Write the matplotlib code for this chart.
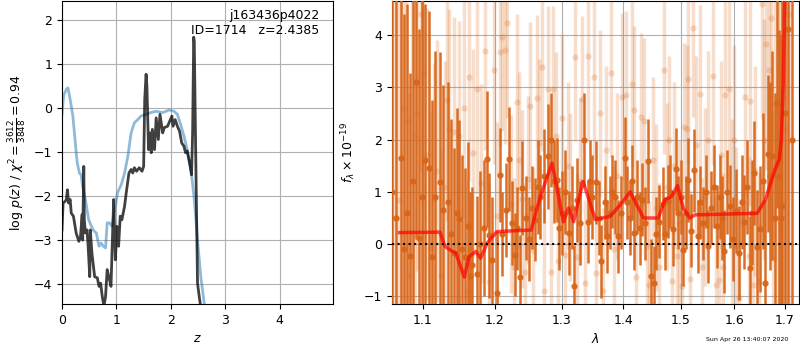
import matplotlib
matplotlib.use("Agg")
import matplotlib.pyplot as plt
from matplotlib.ticker import NullLocator

plt.rcParams["font.size"] = 9

# p(z) panel
z_prior = [0.0, 0.03, 0.08, 0.11, 0.15, 0.2, 0.25, 0.28, 0.32, 0.35, 0.38, 0.43, 0.49,
           0.57, 0.63, 0.68, 0.72, 0.76, 0.80, 0.83, 0.87, 0.92, 0.98, 1.02, 1.09, 1.15,
           1.21, 1.27, 1.33, 1.39, 1.45, 1.54, 1.63, 1.73, 1.85, 1.97, 2.06, 2.12, 2.18,
           2.24, 2.30, 2.37, 2.43, 2.49, 2.55, 2.63]
logp_prior = [-0.15, 0.27, 0.42, 0.45, 0.19, -0.19, -0.87, -1.25, -1.48, -1.52, -1.78,
              -2.08, -2.54, -2.77, -2.84, -3.14, -3.07, -3.14, -3.18, -2.61, -2.61, -2.69,
              -2.23, -1.93, -1.74, -1.48, -1.10, -0.57, -0.34, -0.27, -0.19, -0.15, -0.11,
              -0.08, -0.11, -0.05, -0.08, -0.15, -0.38, -0.64, -0.95, -1.40, -2.08, -2.99,
              -3.83, -4.6]

z_fit = [0.0, 0.02, 0.06, 0.08, 0.10, 0.12, 0.15, 0.17, 0.21, 0.26, 0.31, 0.34, 0.37,
         0.38, 0.40, 0.41, 0.43, 0.46, 0.48, 0.51, 0.52, 0.55, 0.60, 0.65, 0.68, 0.71,
         0.74, 0.77, 0.80, 0.83, 0.86, 0.90, 0.93, 0.95, 0.98, 1.01, 1.04, 1.07, 1.10,
         1.15, 1.18, 1.23, 1.27, 1.30, 1.33, 1.37, 1.42, 1.47, 1.50, 1.52, 1.545, 1.56,
         1.59, 1.62, 1.64, 1.66, 1.70, 1.73, 1.77, 1.80, 1.85, 1.88, 1.94, 1.98, 2.02,
         2.04, 2.08, 2.12, 2.16, 2.20, 2.24, 2.27, 2.30, 2.35, 2.38, 2.40, 2.42, 2.43,
         2.46, 2.49, 2.53, 2.56]
logp_fit = [-2.77, -2.16, -2.12, -2.08, -1.86, -2.16, -2.08, -2.39, -2.46, -2.84, -3.03,
            -2.92, -2.42, -3.0, -1.33, -2.54, -2.84, -2.77, -3.14, -3.83, -2.77, -3.30,
            -3.83, -3.86, -4.05, -3.98, -4.28, -4.5, -4.28, -3.67, -3.83, -4.05, -2.84,
            -2.08, -3.45, -2.69, -3.14, -2.46, -2.54, -2.23, -1.93, -1.48, -1.40, -1.48,
            -1.36, -1.44, -1.36, -1.44, -1.33, 0.19, 0.76, 0.49, -0.95, -0.57, -1.02,
            -0.49, -0.95, -0.23, -0.72, -0.15, -0.57, -0.45, -0.42, -0.30, -0.19, -0.42,
            -0.27, -0.42, -0.53, -0.80, -0.87, -1.02, -0.98, -1.29, -1.52, -0.57, 1.6,
            1.5, -1.33, -3.98, -4.36, -4.6]

# spectrum panel, main grism
lam_a = [1.061, 1.066, 1.072, 1.076, 1.080, 1.083, 1.087, 1.091, 1.096, 1.099, 1.103,
         1.108, 1.112, 1.117, 1.123, 1.128, 1.134, 1.138, 1.142, 1.146, 1.150, 1.153,
         1.157, 1.162, 1.165, 1.168, 1.174, 1.178, 1.184, 1.189, 1.191, 1.196, 1.203,
         1.207, 1.211, 1.216, 1.220, 1.225, 1.229, 1.233, 1.237, 1.240, 1.245, 1.250,
         1.255, 1.2595, 1.264, 1.2675, 1.2735, 1.279, 1.284, 1.288, 1.293, 1.296, 1.300,
         1.305, 1.3125, 1.316, 1.319, 1.3245, 1.330, 1.336, 1.342, 1.345, 1.349, 1.355,
         1.360, 1.364, 1.369, 1.373, 1.378, 1.382, 1.386, 1.391, 1.396, 1.403, 1.407,
         1.411, 1.415, 1.419, 1.424, 1.428, 1.432, 1.437, 1.442, 1.448, 1.4525, 1.457,
         1.461, 1.468, 1.472, 1.477, 1.481, 1.486, 1.491, 1.496, 1.500, 1.505, 1.509,
         1.513, 1.519, 1.525, 1.5315, 1.536, 1.541, 1.546, 1.551, 1.556, 1.562, 1.567,
         1.572, 1.576, 1.581, 1.586, 1.592, 1.597, 1.603, 1.6095, 1.614, 1.618, 1.624,
         1.630, 1.634, 1.638, 1.645, 1.651, 1.656, 1.661, 1.667, 1.671, 1.675, 1.680,
         1.685, 1.688, 1.692, 1.695, 1.700, 1.706, 1.714]
flux_a = [1.0, 0.5, 1.65, -0.10, 0.6, -0.22, 1.2, 3.10, 0.12, 0.9, 1.60, 1.46, -0.25,
          0.9, 1.18, 0.65, 0.80, 0.2, -0.16, 0.6, 0.48, -0.1, -0.24, 0.35, -0.6, -0.40,
          -0.57, 0.0, 0.30, 1.62, 0.17, -0.3, -0.94, 1.33, 0.2, 0.66, 1.63, 0.4, -0.2,
          0.3, -0.63, 1.07, 0.5, 0.1, 0.7, 0.47, 1.1, 0.90, 1.30, 1.68, 2.0, 1.2, 1.23,
          0.3, 0.60, 1.0, 0.21, 0.7, -0.81, 0.85, 0.4, 1.99, 0.43, 1.2, 0.90, 1.18, 0.5,
          -0.33, 0.8, 0.15, 0.6, 1.0, 0.90, 0.15, 0.6, 1.64, 0.8, 0.5, 1.20, 0.21, 0.9,
          0.3, 0.85, 0.4, 1.59, -0.61, -0.74, 0.2, 0.43, 0.77, 0.2, 0.82, 1.0, 0.29, 1.43,
          0.6, 0.9, -0.11, 0.6, 1.23, 0.26, 1.41, 0.15, 0.8, 0.4, 1.0, -0.04, 0.7, 1.1,
          0.34, 0.9, 0.5, -0.14, 1.0, 0.72, 0.10, 0.63, -0.17, 0.8, 0.43, 1.1, -0.46, 0.6,
          1.36, -0.06, 0.29, 1.2, -0.75, 1.73, 1.3, 1.69, 0.5, 2.70, 1.29, 0.5, 0.72, 2.5,
          4.12, 2.0]
err_a = [6.0, 6.0, 5.0, 4.5, 4.0, 3.5, 4.0, 3.0, 4.0, 4.0, 3.0, 3.0, 3.0, 2.8, 2.5, 2.4,
         2.3, 2.2, 2.0, 2.0, 1.9, 1.8, 1.7, 1.6, 1.6, 1.5, 1.5, 1.4, 1.3, 1.3, 1.2, 1.2,
         1.2, 0.9, 0.8, 0.9, 1.0, 0.8, 0.8, 0.8, 0.8, 0.9, 0.8, 0.8, 0.8, 0.8, 0.9, 0.8,
         0.9, 1.0, 0.9, 0.8, 0.8, 0.8, 0.8, 0.8, 0.8, 0.8, 0.8, 0.8, 0.8, 0.9, 0.8, 0.8,
         0.8, 0.8, 0.7, 0.7, 0.7, 0.7, 0.7, 0.7, 0.7, 0.7, 0.7, 0.8, 0.7, 0.7, 0.7, 0.7,
         0.7, 0.7, 0.7, 0.7, 0.8, 0.7, 0.7, 0.7, 0.7, 0.7, 0.7, 0.7, 0.7, 0.7, 0.8, 0.7,
         0.7, 0.7, 0.7, 0.8, 0.7, 0.8, 0.7, 0.7, 0.7, 0.7, 0.7, 0.7, 0.8, 0.8, 0.8, 0.8,
         0.8, 0.8, 0.8, 0.8, 0.8, 0.9, 0.9, 0.9, 0.9, 1.0, 1.0, 1.0, 1.1, 1.2, 1.3, 1.6,
         1.5, 1.8, 2.0, 2.4, 2.0, 2.8, 3.5, 4.0, 5.0, 6.0, 8.0]

# second spectrum (faint)
lam_b = [1.064, 1.070, 1.074, 1.078, 1.082, 1.086, 1.090, 1.093, 1.098, 1.101, 1.106,
         1.110, 1.115, 1.120, 1.125, 1.130, 1.133, 1.135, 1.142, 1.149, 1.156, 1.160,
         1.163, 1.169, 1.175, 1.180, 1.186, 1.192, 1.198, 1.203, 1.207, 1.211, 1.214,
         1.218, 1.223, 1.228, 1.233, 1.235, 1.240, 1.244, 1.248, 1.252, 1.256, 1.262,
         1.266, 1.270, 1.273, 1.279, 1.283, 1.287, 1.291, 1.295, 1.301, 1.306, 1.310,
         1.314, 1.321, 1.325, 1.330, 1.333, 1.338, 1.3426, 1.3517, 1.355, 1.361, 1.366,
         1.371, 1.3795, 1.384, 1.389, 1.3975, 1.405, 1.4145, 1.418, 1.422, 1.4297, 1.435,
         1.440, 1.445, 1.451, 1.456, 1.462, 1.4705, 1.475, 1.480, 1.484, 1.489, 1.494,
         1.498, 1.503, 1.507, 1.511, 1.5127, 1.517, 1.522, 1.528, 1.535, 1.540, 1.545,
         1.550, 1.5598, 1.565, 1.570, 1.575, 1.579, 1.583, 1.5905, 1.595, 1.600, 1.604,
         1.609, 1.6215, 1.628, 1.630, 1.636, 1.641, 1.649, 1.6545, 1.658, 1.663, 1.668,
         1.673, 1.677, 1.681, 1.686, 1.690, 1.697, 1.703, 1.709]
flux_b = [0.5, 0.85, 2.58, 2.36, -0.6, 1.2, 2.06, 2.48, 4.4, 3.28, 1.71, -0.08, 0.87,
          1.4, -0.6, 1.1, 2.75, 2.2, 2.14, 2.06, 2.6, -0.9, 3.2, 1.74, 2.96, 1.16, 3.7,
          -0.72, 3.34, 0.54, 3.68, 3.96, 3.71, 4.22, 0.77, -0.44, 2.71, 1.6, 0.86, -0.54,
          1.24, 2.65, -0.12, 2.79, 1.94, 3.38, -0.9, 2.96, -0.54, 2.96, 2.07, -0.33, 2.42,
          -0.2, 1.5, 0.9, 3.57, -0.24, 1.2, 2.77, -0.75, 3.59, 3.2, -0.55, 2.5, -0.9, 1.8,
          3.27, -0.1, 1.3, 2.82, 2.86, 3.07, 2.57, -0.62, 2.44, 2.35, -0.04, -0.78, 1.6,
          0.7, -0.43, 3.33, 1.1, 2.0, -0.7, 1.5, -0.23, 0.4, -0.81, 2.25, 2.2, 3.15, -0.67,
          4.14, 1.9, 2.88, -0.43, 0.9, 2.0, 3.22, -0.78, -0.69, 1.7, -0.43, 2.86, 2.96,
          0.6, 2.0, -0.04, -1.03, 2.82, -0.23, 2.73, -0.78, 1.4, -0.73, 4.6, 2.0, 3.82,
          3.34, 4.33, -0.26, 2.68, 1.5, 3.8, 0.8, 2.2, 4.4]
err_b = [5.0, 4.5, 4.0, 3.8, 3.5, 3.5, 3.2, 3.0, 3.0, 2.8, 2.8, 2.6, 2.6, 2.5, 2.4, 2.4,
         2.3, 2.3, 2.2, 2.2, 2.1, 2.1, 2.0, 2.0, 2.0, 1.9, 1.9, 1.9, 1.8, 1.8, 1.8, 1.8,
         1.8, 1.8, 1.7, 1.7, 1.7, 1.7, 1.7, 1.7, 1.6, 1.6, 1.6, 1.6, 1.6, 1.6, 1.6, 1.6,
         1.6, 1.6, 1.6, 1.6, 1.6, 1.6, 1.6, 1.6, 1.6, 1.6, 1.6, 1.6, 1.6, 1.6, 1.6, 1.6,
         1.6, 1.6, 1.6, 1.6, 1.6, 1.6, 1.6, 1.6, 1.6, 1.6, 1.6, 1.6, 1.6, 1.6, 1.6, 1.6,
         1.6, 1.6, 1.6, 1.6, 1.6, 1.6, 1.6, 1.6, 1.6, 1.6, 1.6, 1.6, 1.6, 1.7, 1.7,
         1.7, 1.7, 1.7, 1.7, 1.7, 1.7, 1.7, 1.7, 1.8, 1.8, 1.8, 1.8, 1.8, 1.8, 1.9, 1.9,
         1.9, 1.9, 2.0, 2.0, 2.0, 2.1, 2.2, 2.3, 2.4, 2.5, 2.6, 2.8, 3.0, 3.3, 3.6, 4.0,
         5.0, 6.0]

# best-fit model
lam_model = [1.070, 1.1234, 1.130, 1.138, 1.145, 1.1566, 1.1634, 1.1727, 1.1796, 1.1888,
             1.2029, 1.2535, 1.261, 1.2685, 1.2853, 1.303, 1.311, 1.319, 1.334, 1.354,
             1.378, 1.395, 1.412, 1.4345, 1.4605, 1.472, 1.484, 1.4945, 1.5047, 1.517,
             1.526, 1.6445, 1.661, 1.671, 1.681, 1.689, 1.693, 1.697, 1.701]
flux_model = [0.22, 0.23, -0.04, -0.12, -0.17, -0.63, -0.24, -0.14, -0.27, 0.02, 0.24,
              0.27, 0.63, 0.95, 1.55, 0.43, 0.69, 0.43, 1.2, 0.47, 0.53, 0.75, 1.0, 0.5,
              0.5, 0.85, 0.91, 1.12, 0.69, 0.5, 0.56, 0.59, 0.85, 1.15, 1.45, 1.62, 2.0,
              3.1, 5.2]

zbest = 2.4385
root = "j163436p4022"
obj_id = 1714
chi2, dof = 3612, 3848
stamp = "Sun Apr 26 13:40:07 2020"

orange = "#d8661a"

fig = plt.figure(figsize=(8, 3.5), dpi=100)
ax1 = fig.add_axes([0.0775, 0.1314, 0.3388, 0.8657])
ax2 = fig.add_axes([0.4896, 0.1314, 0.5095, 0.8657])

ax1.plot(z_prior, logp_prior, color="tab:blue", alpha=0.5, lw=2)
ax1.plot(z_fit, logp_fit, color="k", alpha=0.75, lw=2)
ax1.set_xlim(0, 4.98)
ax1.set_ylim(-4.45, 2.42)
ax1.set_xticks([0, 1, 2, 3, 4])
ax1.set_yticks([-4, -3, -2, -1, 0, 1, 2])
ax1.grid(True)
ax1.set_xlabel(r"$z$")
ax1.set_ylabel(r"$\log\,p(z)$" + " / " +
               r"$\chi^2=\frac{%d}{%d}=%.2f$" % (chi2, dof, chi2 / dof))
ax1.text(0.95, 0.975, "%s\nID=%d   z=%.4f" % (root, obj_id, zbest),
         transform=ax1.transAxes, ha="right", va="top", fontsize=9)

ax2.errorbar(lam_b, flux_b, yerr=err_b, fmt="o", color=orange, alpha=0.22,
             ms=4.5, mew=0, elinewidth=2.5, capsize=0, zorder=2)
ax2.errorbar(lam_a, flux_a, yerr=err_a, fmt="o", color=orange, alpha=0.95,
             ms=4.5, mew=0, elinewidth=1.8, capsize=0, zorder=3)
ax2.plot(lam_model, flux_model, color="r", alpha=0.7, lw=2.5, zorder=4)
ax2.axhline(0, color="k", ls=":", lw=1.5, zorder=5)

ax2.set_xscale("log")
ax2.set_xlim(1.06, 1.73)
ax2.set_ylim(-1.145, 4.65)
xt = [1.1, 1.2, 1.3, 1.4, 1.5, 1.6, 1.7]
ax2.set_xticks(xt)
ax2.set_xticklabels(["%.1f" % v for v in xt])
ax2.xaxis.set_minor_locator(NullLocator())
ax2.set_yticks([-1, 0, 1, 2, 3, 4])
ax2.grid(True)
ax2.set_xlabel(r"$\lambda$")
ax2.set_ylabel(r"$f_\lambda\times10^{-19}$")

fig.text(0.985, 0.022, stamp, ha="right", va="bottom", fontsize=4.5)

fig.savefig("out.png", dpi=100)
